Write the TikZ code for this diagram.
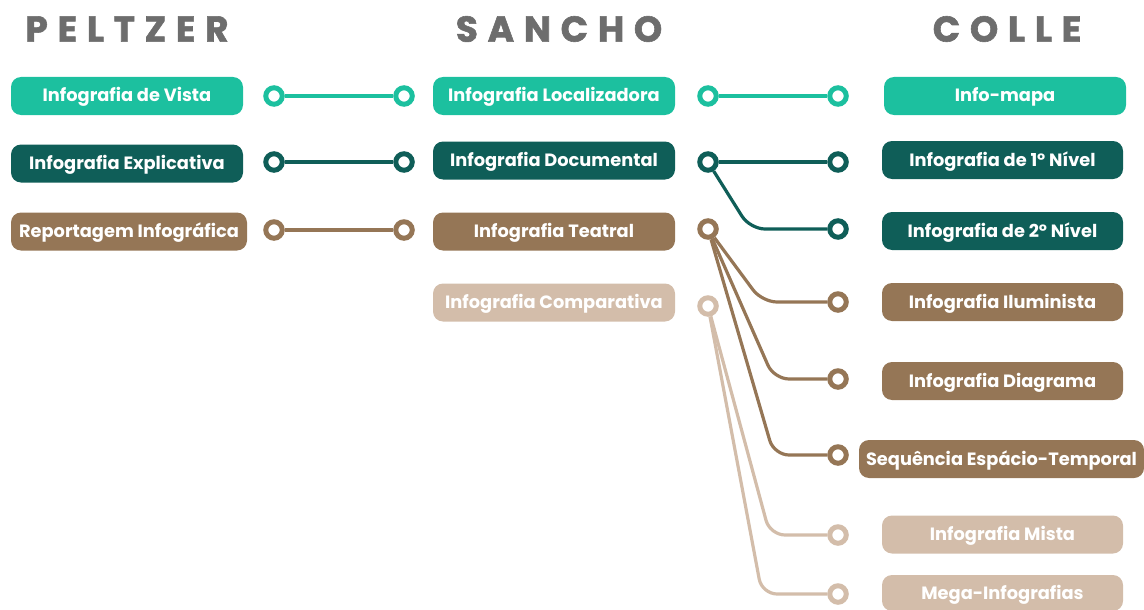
\documentclass[tikz,border=0pt]{standalone}
\usepackage{fontspec}
\setmainfont{Poppins}
\newfontfamily\headfont[LetterSpace=27, BoldFeatures={FakeBold=1.6}]{Poppins}
\definecolor{cLight}{HTML}{1CC09F}
\definecolor{cDark}{HTML}{0F5E58}
\definecolor{cBrown}{HTML}{957656}
\definecolor{cBeige}{HTML}{D3BDAA}
\definecolor{cHead}{HTML}{6D6D6D}
\tikzset{
  lbl/.style={rounded corners=10pt, minimum height=38pt, inner sep=0pt, text=white,
    text height=13pt, text depth=1pt,
    font=\bfseries\fontsize{17.8}{18}\selectfont},
  hdr/.style={text=cHead, inner sep=0pt, font=\headfont\bfseries\fontsize{36}{36}\selectfont},
  ring/.style={circle, draw=#1, line width=5pt, fill=white, minimum size=16.5pt, inner sep=0pt},
  wire/.style={draw=#1, line width=3.2pt, rounded corners=15pt},
}
\begin{document}
\begin{tikzpicture}[x=1pt,y=-1pt]
\useasboundingbox (0,0) rectangle (1144,610);
% headers
\node[hdr] (hP) at (127,29) {PELTZER};
\node[hdr] (hS) at (559,29) {SANCHO};
\node[hdr] (hC) at (1007,29) {COLLE};
% Peltzer boxes
\node[lbl, fill=cLight, minimum width=232pt] (p1) at (127,96) {Infografia de Vista};
\node[lbl, fill=cDark, minimum width=232pt] (p2) at (127,163.5) {Infografia Explicativa};
\node[lbl, fill=cBrown, minimum width=236pt] (p3) at (129,231.5) {Reportagem Infográfica};
% Sancho boxes
\node[lbl, fill=cLight, minimum width=242pt] (s1) at (554,96) {Infografia Localizadora};
\node[lbl, fill=cDark, minimum width=242pt] (s2) at (554,160.5) {Infografia Documental};
\node[lbl, fill=cBrown, minimum width=242pt] (s3) at (554,231.5) {Infografia Teatral};
\node[lbl, fill=cBeige, minimum width=242pt] (s4) at (554,302.5) {Infografia Comparativa};
% Colle boxes
\node[lbl, fill=cLight, minimum width=242pt] (c1) at (1005,96) {Info-mapa};
\node[lbl, fill=cDark, minimum width=241pt] (c2) at (1002.5,160) {Infografia de 1º Nível};
\node[lbl, fill=cDark, minimum width=241pt] (c3) at (1002.5,231) {Infografia de 2º Nível};
\node[lbl, fill=cBrown, minimum width=241pt] (c4) at (1002.5,302) {Infografia Iluminista};
\node[lbl, fill=cBrown, minimum width=241pt] (c5) at (1002.5,381) {Infografia Diagrama};
\node[lbl, fill=cBrown, minimum width=285pt] (c6) at (1001.5,459) {Sequência Espácio-Temporal};
\node[lbl, fill=cBeige, minimum width=241pt] (c7) at (1002.5,534.5) {Infografia Mista};
\node[lbl, fill=cBeige, minimum width=241pt, minimum height=36pt] (c8) at (1002.5,593) {Mega-Infografias};
% rings, left group
\node[ring=cLight] (a1) at (274,96) {};
\node[ring=cLight] (b1) at (404,96) {};
\node[ring=cDark] (a2) at (274,162) {};
\node[ring=cDark] (b2) at (404,162) {};
\node[ring=cBrown] (a3) at (274,230) {};
\node[ring=cBrown] (b3) at (404,230) {};
% rings, right group
\node[ring=cLight] (m1) at (708,96) {};
\node[ring=cLight] (r1) at (838,96) {};
\node[ring=cDark] (m2) at (708,162) {};
\node[ring=cDark] (r2) at (838,162) {};
\node[ring=cDark] (r3) at (838,229) {};
\node[ring=cBrown] (m3) at (708,229) {};
\node[ring=cBrown] (r4) at (838,302) {};
\node[ring=cBrown] (r5) at (838,379) {};
\node[ring=cBrown] (r6) at (838,455) {};
\node[ring=cBeige] (m4) at (708,306) {};
\node[ring=cBeige] (r7) at (838,535) {};
\node[ring=cBeige] (r8) at (838,594) {};
% corner coordinates
\coordinate (k3) at (750,229);
\coordinate (k4) at (762,302);
\coordinate (k5) at (774,379);
\coordinate (k6) at (774,455);
\coordinate (k7) at (770,535);
\coordinate (k8) at (762,594);
% wires
\draw[wire=cLight] (a1) -- (b1);
\draw[wire=cDark] (a2) -- (b2);
\draw[wire=cBrown] (a3) -- (b3);
\draw[wire=cLight] (m1) -- (r1);
\draw[wire=cDark] (m2) -- (r2);
\draw[wire=cDark] (m2) -- (k3) -- (r3);
\draw[wire=cBrown] (m3) -- (k4) -- (r4);
\draw[wire=cBrown] (m3) -- (k5) -- (r5);
\draw[wire=cBrown] (m3) -- (k6) -- (r6);
\draw[wire=cBeige] (m4) -- (k7) -- (r7);
\draw[wire=cBeige] (m4) -- (k8) -- (r8);
\end{tikzpicture}
\end{document}
